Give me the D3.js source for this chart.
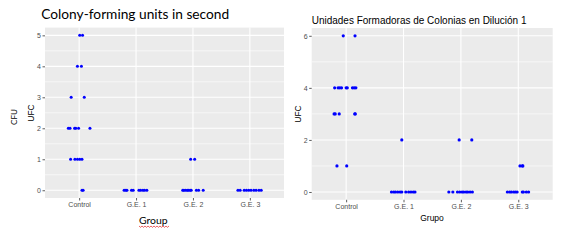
<!DOCTYPE html>
<html><head><meta charset="utf-8">
<script src="https://cdn.jsdelivr.net/npm/d3@7"></script>
<style>body{margin:0;background:#fff}svg{display:block}</style>
</head><body>
<svg id="c" width="568" height="245"></svg>
<script>
const categories = ["Control", "G.E. 1", "G.E. 2", "G.E. 3"];

// Left chart: Colony-forming units in second
const leftTicks = [0, 1, 2, 3, 4, 5];
const leftGroup = ["Control","Control","Control","Control","Control","Control","Control","Control","Control","Control","Control","Control","Control","Control","Control","Control","Control","Control","Control",
  "G.E. 1","G.E. 1","G.E. 1","G.E. 1","G.E. 1","G.E. 1","G.E. 1","G.E. 1","G.E. 1","G.E. 1",
  "G.E. 2","G.E. 2","G.E. 2","G.E. 2","G.E. 2","G.E. 2","G.E. 2","G.E. 2","G.E. 2","G.E. 2","G.E. 2","G.E. 2",
  "G.E. 3","G.E. 3","G.E. 3","G.E. 3","G.E. 3","G.E. 3","G.E. 3","G.E. 3","G.E. 3","G.E. 3"];
const leftValue = [5,5,4,4,3,3,2,2,2,2,2,2,1,1,1,1,1,0,0,
  0,0,0,0,0,0,0,0,0,0,
  1,1,0,0,0,0,0,0,0,0,0,0,
  0,0,0,0,0,0,0,0,0,0];
const leftJitter = [0.01,0.06,-0.03,0.04,-0.14,0.09,-0.19,-0.16,-0.08,-0.06,-0.01,0.19,-0.15,-0.075,-0.03,0.01,0.05,0.05,0.07,
  -0.21,-0.18,-0.16,-0.08,-0.05,0.05,0.08,0.12,0.15,0.19,
  -0.04,0.03,-0.18,-0.16,-0.13,-0.10,-0.08,-0.05,-0.03,0.06,0.10,0.18,
  -0.21,-0.17,-0.10,-0.06,-0.02,0.02,0.07,0.11,0.16,0.20];

// Right chart: Unidades Formadoras de Colonias en Dilución 1
const rightTicks = [0, 2, 4, 6];
const rightGroup = ["Control","Control","Control","Control","Control","Control","Control","Control","Control","Control","Control","Control","Control","Control","Control","Control","Control","Control",
  "G.E. 1","G.E. 1","G.E. 1","G.E. 1","G.E. 1","G.E. 1","G.E. 1","G.E. 1","G.E. 1","G.E. 1","G.E. 1","G.E. 1",
  "G.E. 2","G.E. 2","G.E. 2","G.E. 2","G.E. 2","G.E. 2","G.E. 2","G.E. 2","G.E. 2","G.E. 2","G.E. 2","G.E. 2",
  "G.E. 3","G.E. 3","G.E. 3","G.E. 3","G.E. 3","G.E. 3","G.E. 3","G.E. 3","G.E. 3","G.E. 3","G.E. 3","G.E. 3","G.E. 3"];
const rightValue = [6,6,4,4,4,4,4,4,4,4,4,3,3,3,3,3,1,1,
  2,0,0,0,0,0,0,0,0,0,0,0,
  2,2,0,0,0,0,0,0,0,0,0,0,
  1,1,1,0,0,0,0,0,0,0,0,0,0];
const rightJitter = [-0.05,0.155,-0.20,-0.14,-0.11,-0.08,0.0,0.02,0.11,0.14,0.17,-0.21,-0.19,-0.12,0.15,0.16,-0.16,0.01,
  -0.03,-0.21,-0.17,-0.14,-0.10,-0.06,-0.03,0.04,0.09,0.13,0.17,0.20,
  -0.03,0.19,-0.21,-0.14,-0.06,-0.02,0.02,0.05,0.09,0.12,0.16,0.20,
  0.03,0.07,0.08,-0.19,-0.15,-0.12,-0.08,-0.05,-0.02,0.07,0.09,0.14,0.18];

const svg = d3.select("#c");

function fit(sel, w) {
  const fs = parseFloat(sel.attr("font-size"));
  const len = sel.node().getComputedTextLength();
  sel.attr("font-size", fs * w / len);
}

function panel(cfg) {
  const g = svg.append("g");
  const x = d3.scalePoint().domain(categories).range([cfg.x0, cfg.x1]).padding(0.6);
  const y = d3.scaleLinear().domain(cfg.ydom).range([cfg.y1, cfg.y0]);
  const step = x.step();
  g.append("rect").attr("x", cfg.x0).attr("y", cfg.y0).attr("width", cfg.x1 - cfg.x0).attr("height", cfg.y1 - cfg.y0).attr("fill", "#EBEBEB");
  // minor grid
  const minor = [];
  for (let i = 0; i < cfg.ticks.length - 1; i++) minor.push((cfg.ticks[i] + cfg.ticks[i + 1]) / 2);
  g.selectAll(".mn").data(minor).join("line").attr("x1", cfg.x0).attr("x2", cfg.x1)
    .attr("y1", d => y(d)).attr("y2", d => y(d)).attr("stroke", "#fff").attr("stroke-width", 0.6);
  g.selectAll(".mj").data(cfg.ticks).join("line").attr("x1", cfg.x0).attr("x2", cfg.x1)
    .attr("y1", d => y(d)).attr("y2", d => y(d)).attr("stroke", "#fff").attr("stroke-width", 1.1);
  g.selectAll(".vj").data(categories).join("line").attr("y1", cfg.y0).attr("y2", cfg.y1)
    .attr("x1", d => x(d)).attr("x2", d => x(d)).attr("stroke", "#fff").attr("stroke-width", 1.1);
  // axes
  const ya = g.append("g").attr("transform", `translate(${cfg.x0},0)`)
    .call(d3.axisLeft(y).tickValues(cfg.ticks).tickSize(2.5).tickPadding(1.5).tickFormat(d3.format("d")));
  const xa = g.append("g").attr("transform", `translate(0,${cfg.y1})`)
    .call(d3.axisBottom(x).tickSize(2.5).tickPadding(2));
  [ya, xa].forEach(a => {
    a.select(".domain").remove();
    a.selectAll(".tick line").attr("stroke", "#333").attr("stroke-width", 0.8);
    a.selectAll(".tick text").attr("fill", "#4D4D4D").attr("font-family", "Liberation Sans, Arial, sans-serif").attr("font-size", 7);
  });
  // points
  g.selectAll(".pt").data(cfg.group.map((c, i) => ({c, v: cfg.value[i], j: cfg.jitter[i]}))).join("circle")
    .attr("cx", d => x(d.c) + d.j * step).attr("cy", d => y(d.v)).attr("r", cfg.r).attr("fill", "#0000FF");
  return {x, y};
}

panel({x0: 45, x1: 284, y0: 27.6, y1: 198, ydom: [-0.25, 5.25], ticks: leftTicks,
  group: leftGroup, value: leftValue, jitter: leftJitter, r: 1.5});
panel({x0: 311.7, x1: 552.7, y0: 28, y1: 199.8, ydom: [-0.3, 6.3], ticks: rightTicks,
  group: rightGroup, value: rightValue, jitter: rightJitter, r: 1.6});

// Left texts
const t1 = svg.append("text").attr("x", 41.3).attr("y", 18.5).attr("font-family", "Lato, sans-serif")
  .attr("font-size", 16).attr("fill", "#000").text("Colony-forming units in second");
fit(t1, 188);
const ufcL = svg.append("text").attr("transform", "translate(34,113) rotate(-90)").attr("text-anchor", "middle")
  .attr("font-family", "Liberation Sans, Arial, sans-serif").attr("font-size", 8.5).attr("fill", "#000").text("UFC");
const cfu = svg.append("text").attr("transform", "translate(17,117) rotate(-90)").attr("text-anchor", "middle")
  .attr("font-family", "Lato, sans-serif").attr("font-size", 10).attr("fill", "#000").text("CFU");
fit(cfu, 16);
const grp = svg.append("text").attr("x", 139).attr("y", 223.5).attr("font-family", "Lato, sans-serif")
  .attr("font-size", 11).attr("fill", "#000").text("Group");
fit(grp, 28.7);
// spell-check squiggle
let sq = "M139,226";
for (let xx = 139, k = 0; xx < 168; xx += 1.5, k++) sq += `L${xx + 1.5},${k % 2 ? 226 : 227.3}`;
svg.append("path").attr("d", sq).attr("fill", "none").attr("stroke", "#E02020").attr("stroke-width", 0.7);

// Right texts
const t2 = svg.append("text").attr("x", 311.7).attr("y", 23.5).attr("font-family", "Liberation Sans, Arial, sans-serif")
  .attr("font-size", 10).attr("fill", "#000").text("Unidades Formadoras de Colonias en Dilución 1");
fit(t2, 215);
svg.append("text").attr("transform", "translate(300.5,114) rotate(-90)").attr("text-anchor", "middle")
  .attr("font-family", "Liberation Sans, Arial, sans-serif").attr("font-size", 8.5).attr("fill", "#000").text("UFC");
svg.append("text").attr("x", 432).attr("y", 220.5).attr("text-anchor", "middle")
  .attr("font-family", "Liberation Sans, Arial, sans-serif").attr("font-size", 8.5).attr("fill", "#000").text("Grupo");
</script>
</body></html>
